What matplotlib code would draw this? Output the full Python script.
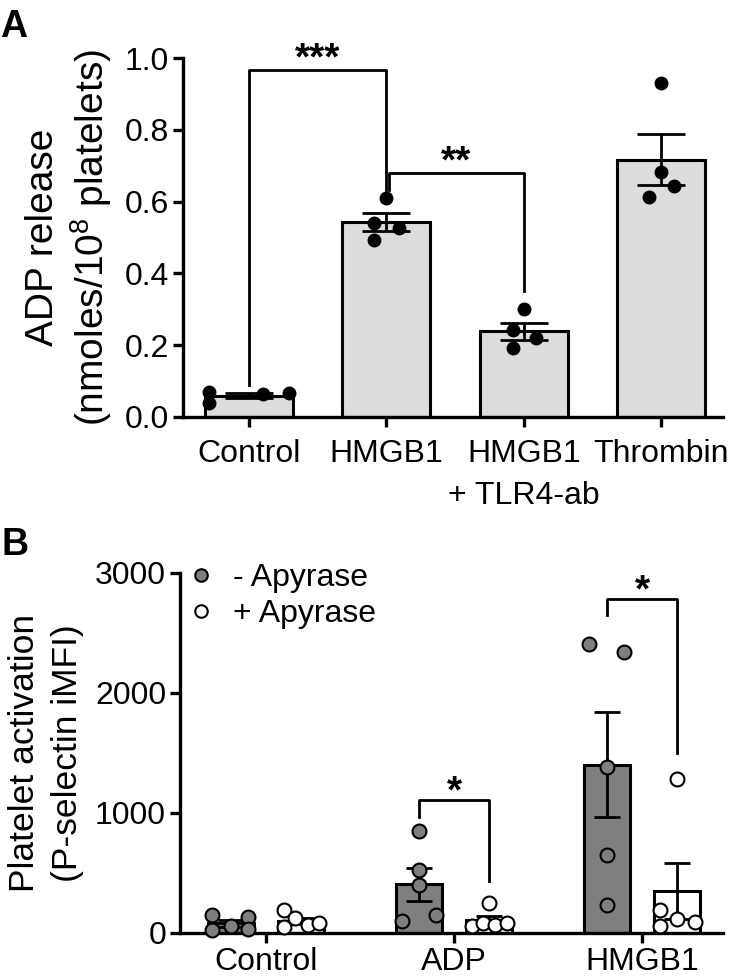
import matplotlib
matplotlib.use("Agg")
import matplotlib.pyplot as plt
import numpy as np
from matplotlib.lines import Line2D

plt.rcParams["font.family"] = ["Liberation Sans", "DejaVu Sans"]
plt.rcParams["mathtext.fontset"] = "custom"
plt.rcParams["mathtext.rm"] = "Liberation Sans"

# ---- panel A data: ADP release, individual platelet preparations
a_groups = ["Control", "HMGB1", "HMGB1\n+ TLR4-ab", "Thrombin"]
a_points = [
    [0.070, 0.039, 0.064, 0.066],
    [0.610, 0.540, 0.527, 0.493],
    [0.300, 0.242, 0.220, 0.192],
    [0.930, 0.683, 0.643, 0.613],
]
a_jitter = [
    [-0.29, -0.29, 0.10, 0.29],
    [0.0, -0.09, 0.09, -0.09],
    [0.0, -0.08, 0.09, -0.08],
    [0.0, 0.0, 0.09, -0.09],
]
# brackets: (left x, right x, top y, left drop, right drop, label)
a_sig = [
    (0.0, 1.0, 0.967, 0.09, 0.632, "***"),
    (1.02, 2.0, 0.68, 0.632, 0.35, "**"),
]

# ---- panel B data: P-selectin iMFI
b_groups = ["Control", "ADP", "HMGB1"]
b_minus = [
    [150, 25, 58, 133, 33],
    [850, 525, 400, 100, 150],
    [2408, 2342, 1383, 650, 233],
]
b_plus = [
    [192, 50, 125, 67, 83],
    [250, 58, 83, 67, 83],
    [1283, 192, 58, 117, 92],
]
b_minus_jit = [
    [-0.10, -0.10, 0.0, 0.09, 0.09],
    [0.0, 0.0, 0.0, -0.09, 0.09],
    [-0.095, 0.09, 0.0, 0.0, 0.0],
]
b_plus_jit = [
    [-0.09, -0.09, -0.03, 0.04, 0.095],
    [0.0, -0.09, -0.03, 0.03, 0.095],
    [0.0, -0.09, -0.09, 0.0, 0.095],
]
# (group, top y, left drop, right drop, label)
b_sig = [
    (1, 1108, 967, 433, "*"),
    (2, 2783, 2650, 1500, "*"),
]

light = "#dcdcdc"
dark = "#7f7f7f"
FS = 23


def mean_sem(vals):
    v = np.asarray(vals, dtype=float)
    return v.mean(), v.std(ddof=1) / np.sqrt(len(v))


def style_axes(ax, pad):
    for s in ["top", "right"]:
        ax.spines[s].set_visible(False)
    for s in ["left", "bottom"]:
        ax.spines[s].set_linewidth(2.4)
    ax.tick_params(width=2.4, length=7, labelsize=FS, pad=3)
    ax.tick_params(axis="x", pad=pad)


fig = plt.figure(figsize=(7.43, 9.76), dpi=100)

# ---------------- panel A
ax = fig.add_axes([183 / 743, 1 - 417 / 976, 540 / 743, 359 / 976])
xa = np.arange(len(a_groups))
for i, pts in enumerate(a_points):
    m, se = mean_sem(pts)
    ax.bar(xa[i], m, width=0.64, color=light, edgecolor="k", linewidth=2.2, zorder=1)
    ax.errorbar(xa[i], m, yerr=se, color="k", lw=2, capsize=17, capthick=2, zorder=3)
    ax.plot(xa[i] + np.array(a_jitter[i]), pts, "o", color="k", ms=9, zorder=4, clip_on=False)
for x0, x1, y, d0, d1, lab in a_sig:
    ax.plot([x0, x0, x1, x1], [d0, y, y, d1], color="k", lw=2, clip_on=False)
    ax.text((x0 + x1) / 2, y + 0.028, lab, ha="center", va="center", fontsize=28,
            fontweight="bold", clip_on=False)
ax.set_xlim(-0.48, 3.45)
ax.set_ylim(0, 1.0)
ax.set_yticks(np.arange(0, 1.01, 0.2))
ax.set_yticklabels([f"{t:.1f}" for t in np.arange(0, 1.01, 0.2)])
ax.set_xticks(xa)
ax.set_xticklabels(a_groups, linespacing=1.5)
ax.set_ylabel("ADP release\n(nmoles/10$^8$ platelets)", fontsize=28, linespacing=1.19,
              labelpad=8)
style_axes(ax, pad=9)

# ---------------- panel B
bx = fig.add_axes([180 / 743, 1 - 933 / 976, 543 / 743, 360 / 976])
xb = np.arange(len(b_groups))
off, w = 0.186, 0.245
for i in range(len(b_groups)):
    for pts, jit, col, sgn in [(b_minus[i], b_minus_jit[i], dark, -1),
                               (b_plus[i], b_plus_jit[i], "white", 1)]:
        xc = xb[i] + sgn * off
        m, se = mean_sem(pts)
        bx.bar(xc, m, width=w, color=col, edgecolor="k", linewidth=2.2, zorder=1)
        bx.errorbar(xc, m, yerr=se, color="k", lw=2, capsize=9.5, capthick=2, zorder=3)
        bx.plot(xc + np.array(jit), pts, "o", mfc=col, mec="k", mew=1.5, ms=10,
                zorder=4, clip_on=False)
for g, y, d0, d1, lab in b_sig:
    x0, x1 = xb[g] - off, xb[g] + off
    bx.plot([x0, x0, x1, x1], [d0, y, y, d1], color="k", lw=2, clip_on=False)
    bx.text((x0 + x1) / 2, y + 65, lab, ha="center", va="center", fontsize=28,
            fontweight="bold", clip_on=False)
bx.set_xlim(-0.457, 2.43)
bx.set_ylim(0, 3000)
bx.set_yticks([0, 1000, 2000, 3000])
bx.set_xticks(xb)
bx.set_xticklabels(b_groups)
bx.set_ylabel("Platelet activation\n(P-selectin iMFI)", fontsize=25.5, linespacing=1.39,
              labelpad=8)
style_axes(bx, pad=3)
handles = [
    Line2D([], [], ls="none", marker="o", mfc=dark, mec="k", mew=1.5, ms=9, label="- Apyrase"),
    Line2D([], [], ls="none", marker="o", mfc="white", mec="k", mew=1.5, ms=9, label="+ Apyrase"),
]
bx.legend(handles=handles, loc="upper left", bbox_to_anchor=(188 / 743, 1 - 563 / 976),
          bbox_transform=fig.transFigure, frameon=False, fontsize=FS,
          handlelength=0.8, handletextpad=0.6, labelspacing=0.19, borderpad=0,
          borderaxespad=0)

fig.text(0, 1 - 37 / 976, "A", fontsize=27, fontweight="bold", va="baseline")
fig.text(2 / 743, 1 - 555 / 976, "B", fontsize=27, fontweight="bold", va="baseline")

fig.savefig("out.png", dpi=100)
